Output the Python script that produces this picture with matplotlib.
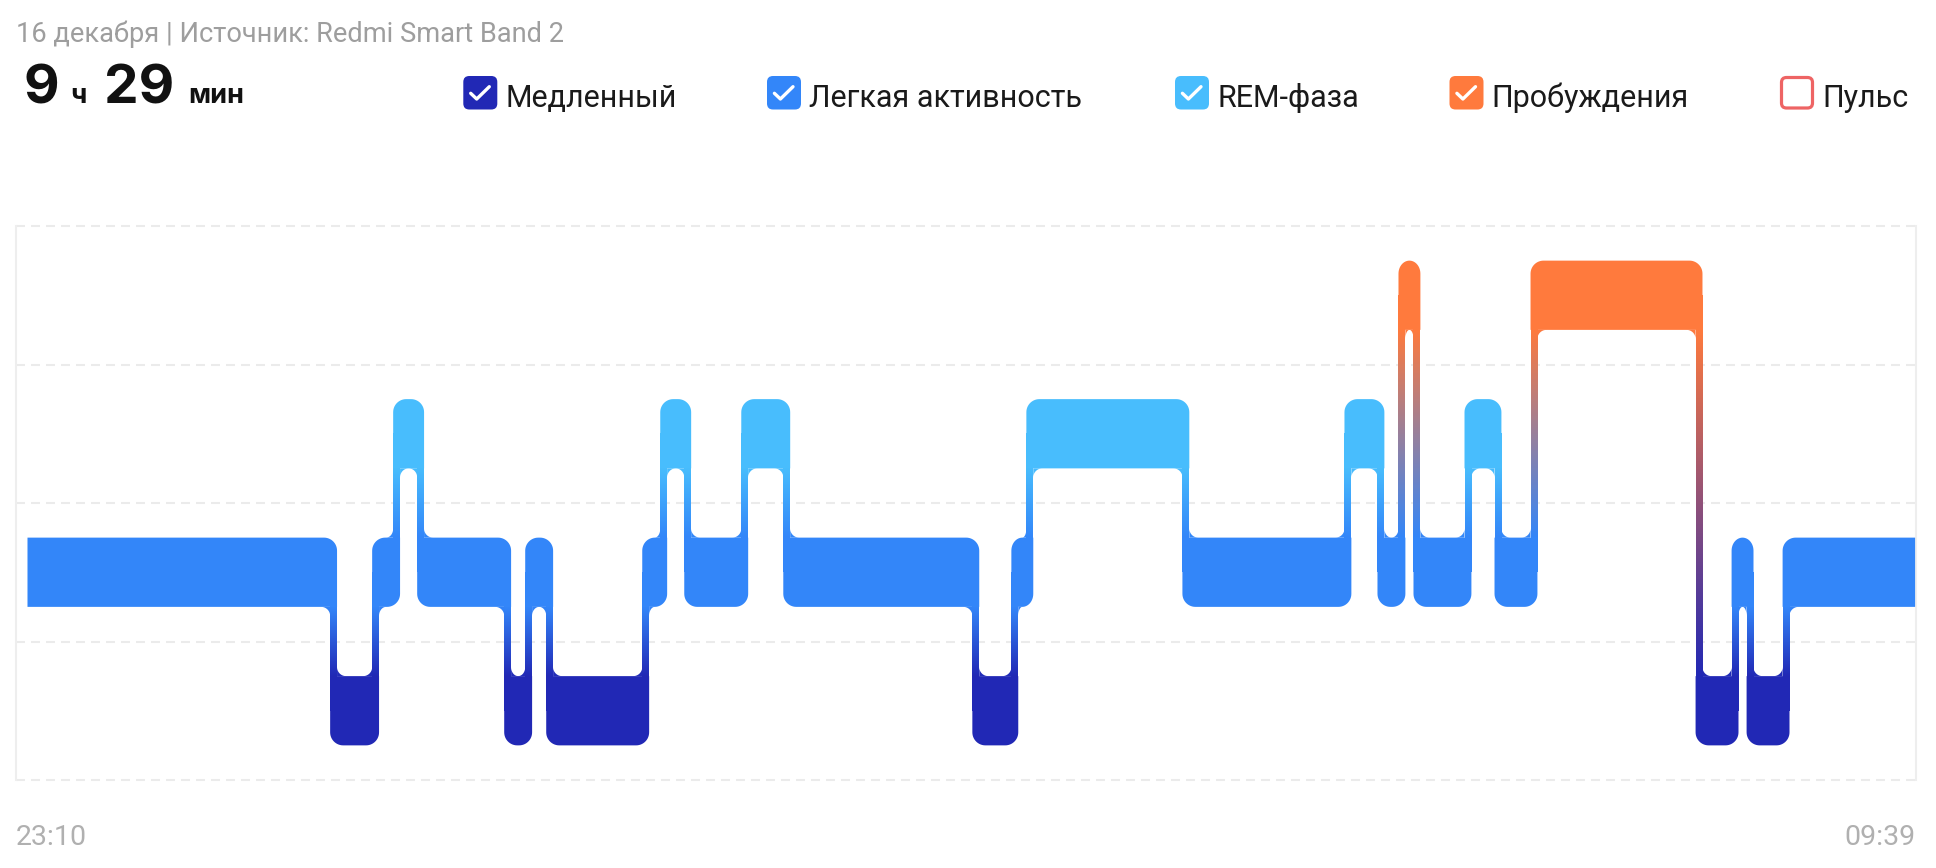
import numpy as np
import matplotlib
matplotlib.use("Agg")
import matplotlib.pyplot as plt
from matplotlib.colors import to_rgb
from matplotlib.patches import FancyBboxPatch

plt.rcParams['font.family'] = ['Roboto', 'DejaVu Sans']

# --- данные ---
date_line = "16 декабря | Источник: Redmi Smart Band 2"
hours, minutes = "9", "29"
t_start, t_end = "23:10", "09:39"
total = 629  # минут от 23:10 до 09:39

# фазы сна и их начало (минуты от 23:10)
stages = ['light', 'deep', 'light', 'rem', 'light', 'deep', 'light', 'deep', 'light', 'rem',
          'light', 'rem', 'light', 'deep', 'light', 'rem', 'light', 'rem', 'light', 'awake',
          'light', 'rem', 'light', 'awake', 'deep', 'light', 'deep', 'light']
starts = [0, 102, 116, 123, 131, 160, 167, 174, 206, 212,
          220, 239, 253, 316, 329, 334, 386, 440, 451, 458,
          463, 480, 490, 502, 557, 569, 574, 586]

legend_labels = ["Медленный", "Легкая активность", "REM-фаза", "Пробуждения", "Пульс"]
legend_keys = ['deep', 'light', 'rem', 'awake', 'pulse']
legend_on = [True, True, True, True, False]

level = {'deep': 0.5, 'light': 1.5, 'rem': 2.5, 'awake': 3.5}
colors = {'deep': '#2128B5', 'light': '#3386F9', 'rem': '#48BDFD',
          'awake': '#FF7A3D', 'pulse': '#EE6464'}

H = 0.25          # половина высоты полосы
CW = 1.15         # половина ширины перемычки (мин)
RX, RY = 4.33, 0.094   # радиус скругления
FX, FY = 3.0, 0.065    # радиус вогнутых углов

fig = plt.figure(figsize=(19.36, 8.68), dpi=100)
fig.patch.set_facecolor('white')

# слой для заголовка, легенды и подписей (в пикселях)
ov = fig.add_axes([0, 0, 1, 1])
ov.set_xlim(0, 1936)
ov.set_ylim(868, 0)
ov.axis('off')

ax = fig.add_axes([16/1936, 88/868, 1900/1936, 554/868])
ax.set_facecolor('none')


def rounded(x0, x1, y0, y1, bl, br, tr, tl, col):
    rx = min(RX, (x1 - x0) / 2)
    ry = RY
    a = np.linspace(0, np.pi / 2, 14)
    xs, ys = [], []
    if bl:
        xs += list(x0 + rx - rx*np.cos(a)); ys += list(y0 + ry - ry*np.sin(a))
    else:
        xs.append(x0); ys.append(y0)
    if br:
        xs += list(x1 - rx + rx*np.sin(a)); ys += list(y0 + ry - ry*np.cos(a))
    else:
        xs.append(x1); ys.append(y0)
    if tr:
        xs += list(x1 - rx + rx*np.cos(a)); ys += list(y1 - ry + ry*np.sin(a))
    else:
        xs.append(x1); ys.append(y1)
    if tl:
        xs += list(x0 + rx - rx*np.sin(a)); ys += list(y1 - ry + ry*np.cos(a))
    else:
        xs.append(x0); ys.append(y1)
    ax.fill(xs, ys, color=col, lw=0, zorder=3)


def fillet(px, py, sx, sy, fx, col):
    a = np.linspace(0, np.pi / 2, 12)
    cx, cy = px + sx*fx, py + sy*FY
    xs = [px] + list(cx - sx*fx*np.sin(a))
    ys = [py] + list(cy - sy*FY*np.cos(a))
    ax.fill(xs, ys, color=col, lw=0, zorder=3)


def grad(y, lo, hi):
    ylo, yhi = level[lo] + H, level[hi] - H
    f = np.clip((np.asarray(y) - ylo) / (yhi - ylo), 0, 1)
    c0, c1 = np.array(to_rgb(colors[lo])), np.array(to_rgb(colors[hi]))
    return (1 - f)[..., None] * c0 + f[..., None] * c1


n = len(stages)
ends = starts[1:] + [total]

# полосы фаз
for i in range(n):
    y = level[stages[i]]
    x0 = starts[i] - CW if i > 0 else starts[i]
    x1 = ends[i] + CW if i < n - 1 else ends[i]
    prev = level[stages[i-1]] if i > 0 else None
    nxt = level[stages[i+1]] if i < n - 1 else None
    bl = prev is not None and prev > y
    tl = prev is not None and prev < y
    br = nxt is not None and nxt > y
    tr = nxt is not None and nxt < y
    rounded(x0, x1, y - H, y + H, bl, br, tr, tl, colors[stages[i]])

# перемычки с градиентом
for i in range(1, n):
    t = starts[i]
    a, b = stages[i-1], stages[i]
    lo, hi = (a, b) if level[a] < level[b] else (b, a)
    ys = np.linspace(level[lo], level[hi], 600)
    cols = grad(ys, lo, hi)
    ax.imshow(cols[:, None, :], extent=[t - CW, t + CW, level[lo], level[hi]],
              origin='lower', aspect='auto', interpolation='nearest', zorder=3)

    yl, yr = level[a], level[b]
    free_l = (t - CW) - (starts[i-1] + CW if i - 1 > 0 else starts[i-1])
    free_r = (ends[i] - CW if i < n - 1 else ends[i]) - (t + CW)
    s1 = -1 if yl > yr else 1
    p1 = yl + s1*H
    fillet(t - CW, p1, -1, s1, min(FX, free_l / 2), grad(p1 + s1*FY/3, lo, hi))
    s2 = -s1
    p2 = yr + s2*H
    fillet(t + CW, p2, 1, s2, min(FX, free_r / 2), grad(p2 + s2*FY/3, lo, hi))

ax.set_xlim(-3.83, total + 0.3)
ax.set_ylim(0, 4)
for gy in range(5):
    ax.axhline(gy, color='#EBEBEB', lw=1.5, ls=(0, (4.3, 2.9)), zorder=1, clip_on=False)
for s in ['top', 'bottom']:
    ax.spines[s].set_visible(False)
for s in ['left', 'right']:
    ax.spines[s].set_color('#EEEEEE')
    ax.spines[s].set_linewidth(1.5)
ax.set_xticks([])
ax.set_yticks([])

# заголовок
big = ['Inter', 'Roboto', 'DejaVu Sans']
ov.text(16, 42, date_line, fontsize=19.6, color='#9E9E9E', va='baseline')
ov.text(23, 103.3, hours, fontsize=39.5, weight='bold', color='#111111', va='baseline', family=big)
ov.text(70, 103.3, "ч", fontsize=19.5, weight='bold', color='#111111', va='baseline', family=big)
ov.text(104, 103.3, minutes, fontsize=39.5, weight='bold', color='#111111', va='baseline', family=big)
ov.text(188, 103.3, "мин", fontsize=19.5, weight='bold', color='#111111', va='baseline', family=big)

# легенда
box_x = [463.3, 767, 1175, 1449.5, 1780]
for bx, lab, key, on in zip(box_x, legend_labels, legend_keys, legend_on):
    if on:
        ov.add_patch(FancyBboxPatch((bx, 76), 34, 33.5, boxstyle='round,pad=0,rounding_size=6',
                                    fc=colors[key], ec='none'))
        ov.plot([bx + 7.4, bx + 13.4, bx + 26], [93.3, 99, 86.7], color='white', lw=2.4,
                solid_capstyle='round', solid_joinstyle='round')
    else:
        ov.add_patch(FancyBboxPatch((bx + 1.5, 77.5), 31, 30.5, boxstyle='round,pad=0,rounding_size=5',
                                    fc='white', ec=colors[key], lw=2.3))
    ov.text(bx + 42, 106.7, lab, fontsize=22, color='#1A1A1A', va='baseline')

# подписи времени
ov.text(16, 845, t_start, fontsize=20.5, color='#B0B0B0', va='baseline')
ov.text(1915, 845, t_end, fontsize=20.5, color='#B0B0B0', va='baseline', ha='right')

fig.savefig('out.png', dpi=100, facecolor='white')
